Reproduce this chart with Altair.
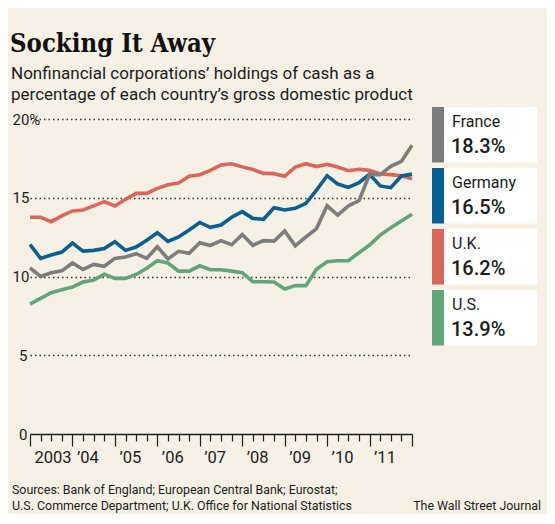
import altair as alt
import pandas as pd

# ---------------- data ----------------
countries = ["France", "Germany", "U.K.", "U.S."]
latest_labels = ["18.3%", "16.5%", "16.2%", "13.9%"]
colors = ["#7d7d7d", "#0a5f91", "#d8675c", "#62a57a"]

# quarterly observations, end-2002 through end-2011 (37 points)
france = [10.55, 10.0, 10.24, 10.36, 10.86, 10.45, 10.77, 10.65, 11.15, 11.24,
          11.45, 11.15, 11.89, 11.12, 11.6, 11.47, 12.15, 11.97, 12.28, 12.02,
          12.66, 11.98, 12.28, 12.25, 12.89, 11.95, 12.51, 13.04, 14.49, 13.9,
          14.48, 14.82, 16.47, 16.47, 17.0, 17.31, 18.33]
germany = [12.03, 11.15, 11.37, 11.55, 12.12, 11.61, 11.66, 11.77, 12.21, 11.66,
           11.87, 12.3, 12.78, 12.23, 12.51, 12.95, 13.43, 13.12, 13.27, 13.76,
           14.12, 13.69, 13.63, 14.36, 14.22, 14.33, 14.65, 15.49, 16.4, 15.87,
           15.66, 15.96, 16.49, 15.75, 15.64, 16.38, 16.5]
uk = [13.76, 13.76, 13.48, 13.85, 14.16, 14.22, 14.48, 14.75, 14.48, 14.9,
      15.28, 15.28, 15.6, 15.83, 15.94, 16.36, 16.46, 16.74, 17.08, 17.16,
      16.96, 16.8, 16.55, 16.53, 16.36, 16.95, 17.16, 16.98, 17.12, 16.95,
      16.72, 16.81, 16.74, 16.51, 16.47, 16.39, 16.2]
us = [8.25, 8.61, 8.97, 9.16, 9.33, 9.65, 9.78, 10.15, 9.88, 9.88,
      10.13, 10.52, 11.0, 10.86, 10.34, 10.34, 10.68, 10.43, 10.43, 10.34,
      10.24, 9.67, 9.67, 9.65, 9.21, 9.42, 9.42, 10.46, 10.94, 11.0,
      11.0, 11.51, 12.0, 12.63, 13.1, 13.52, 13.95]

y_ticks = [0, 5, 10, 15, 20]

TITLE = "Socking It Away"
SUBTITLE = ["Nonfinancial corporations\u2019 holdings of cash as a",
            "percentage of each country\u2019s gross domestic product"]
SOURCES = ["Sources: Bank of England; European Central Bank; Eurostat;",
           "U.S. Commerce Department; U.K. Office for National Statistics"]
CREDIT = "The Wall Street Journal"

# ---------------- build table ----------------
series = {"France": france, "Germany": germany, "U.K.": uk, "U.S.": us}
n = len(france)
t_pos = [2003 + i / 4 for i in range(n)]          # quarterly grid
x_ticks = [2003 + i / 4 for i in range(37)]

rows = []
for name in countries:
    for tt, v in zip(t_pos, series[name]):
        rows.append({"t": tt, "country": name, "value": v})
df = pd.DataFrame(rows)
leg_df = pd.DataFrame({"country": countries, "latest": latest_labels})
one = pd.DataFrame({"k": [0]})

# ---------------- style ----------------
W, H = 382, 315
BG = "#f6f1e4"
INK = "#1c1c1c"
SANS = "Roboto, sans-serif"
SERIF = "DejaVu Serif Condensed, DejaVu Serif, serif"

x_enc = alt.X(
    "t:Q",
    scale=alt.Scale(domain=[2003, 2012], nice=False, zero=False),
    axis=alt.Axis(
        values=x_ticks, title=None, grid=False,
        domainColor=INK, domainWidth=1.6,
        tickColor=INK, tickWidth=1.2,
        tickSize=alt.condition("datum.value % 1 == 0", alt.value(12), alt.value(7)),
        labelExpr="datum.value == 2003 ? '2003' : ((datum.value % 1 == 0 && datum.value < 2012) ? '\u2019' + substring(toString(datum.value), 2, 4) : '')",
        labelAlign="left", labelOffset=4, labelPadding=3,
        labelOverlap=False, labelFlush=False, labelBound=False,
        labelFont=SANS, labelFontSize=16.5, labelColor=INK,
    ),
)
y_enc = alt.Y(
    "value:Q",
    scale=alt.Scale(domain=[0, 20], nice=False, zero=True),
    axis=alt.Axis(
        values=y_ticks, title=None, domain=False, ticks=False, tickSize=0,
        grid=True, gridDash=[1.5, 3], gridColor="#333333", gridWidth=1.3,
        gridOpacity=alt.condition("datum.value == 0", alt.value(0), alt.value(1)),
        labelExpr="datum.value == 20 ? '20%' : datum.label",
        labelAlign=alt.condition("datum.value < 10", alt.value("right"), alt.value("left")),
        labelPadding=alt.condition("datum.value < 10", alt.value(3), alt.value(18)),
        labelBaseline="middle",
        labelFont=SANS, labelFontSize=15, labelColor=INK,
    ),
)

line_layers = []
for name in ["U.S.", "U.K.", "Germany", "France"]:
    col = colors[countries.index(name)]
    line_layers.append(
        alt.Chart(df)
        .transform_filter(alt.datum.country == name)
        .mark_line(strokeWidth=3.6, color=col)
        .encode(x=x_enc, y=y_enc)
    )
lines = alt.layer(*line_layers)

# ---------------- legend boxes ----------------
leg_scale = alt.Scale(domain=countries, range=[-12, 226.5], paddingInner=0.09, paddingOuter=0)
color_scale = alt.Scale(domain=countries, range=colors)

bar = alt.Chart(leg_df).mark_rect().encode(
    y=alt.Y("country:N", scale=leg_scale, axis=None, sort=countries),
    x=alt.value(402), x2=alt.value(414),
    color=alt.Color("country:N", scale=color_scale, legend=None),
)
box = alt.Chart(leg_df).mark_rect(color="white").encode(
    y=alt.Y("country:N", scale=leg_scale, axis=None, sort=countries),
    x=alt.value(414), x2=alt.value(507),
)
name_txt = alt.Chart(leg_df).mark_text(
    align="left", baseline="middle", font=SANS, fontSize=16, color=INK
).encode(
    y=alt.Y("country:N", scale=leg_scale, axis=None, sort=countries, bandPosition=0.27),
    x=alt.value(422), text="country:N",
)
val_txt = alt.Chart(leg_df).mark_text(
    align="left", baseline="middle", font=SANS, fontSize=20, fontWeight=500, color=INK
).encode(
    y=alt.Y("country:N", scale=leg_scale, axis=None, sort=countries, bandPosition=0.72),
    x=alt.value(421), text="latest:N",
)
legend = alt.layer(bar, box, name_txt, val_txt)

# ---------------- annotations ----------------
title = alt.Chart(one).mark_text(
    text=TITLE, align="left", baseline="alphabetic", font=SERIF,
    fontSize=25.5, fontWeight="bold", color="#111111",
).encode(x=alt.value(-20), y=alt.value(-67))
subtitle = alt.Chart(one).mark_text(
    text=SUBTITLE, align="left", baseline="alphabetic", font=SANS,
    fontSize=17, lineHeight=21.5, color=INK,
).encode(x=alt.value(-19), y=alt.value(-40.5))
sources = alt.Chart(one).mark_text(
    text=SOURCES, align="left", baseline="alphabetic", font=SANS,
    fontSize=12.4, lineHeight=16.5, color=INK,
).encode(x=alt.value(-18), y=alt.value(374.5))
credit = alt.Chart(one).mark_text(
    text=CREDIT, align="right", baseline="alphabetic", font=SANS,
    fontSize=12.4, color=INK,
).encode(x=alt.value(511), y=alt.value(391))

chart = (
    alt.layer(lines, legend, title, subtitle, sources, credit)
    .resolve_scale(y="independent", x="independent")
    .properties(
        width=W, height=H,
        background=BG,
        padding={"left": 22, "top": 111, "right": 135, "bottom": 80},
        autosize=alt.AutoSizeParams(type="none"),
    )
    .configure_view(stroke=None)
)

chart.save("out.html", embed_options={"renderer": "svg", "actions": False})
